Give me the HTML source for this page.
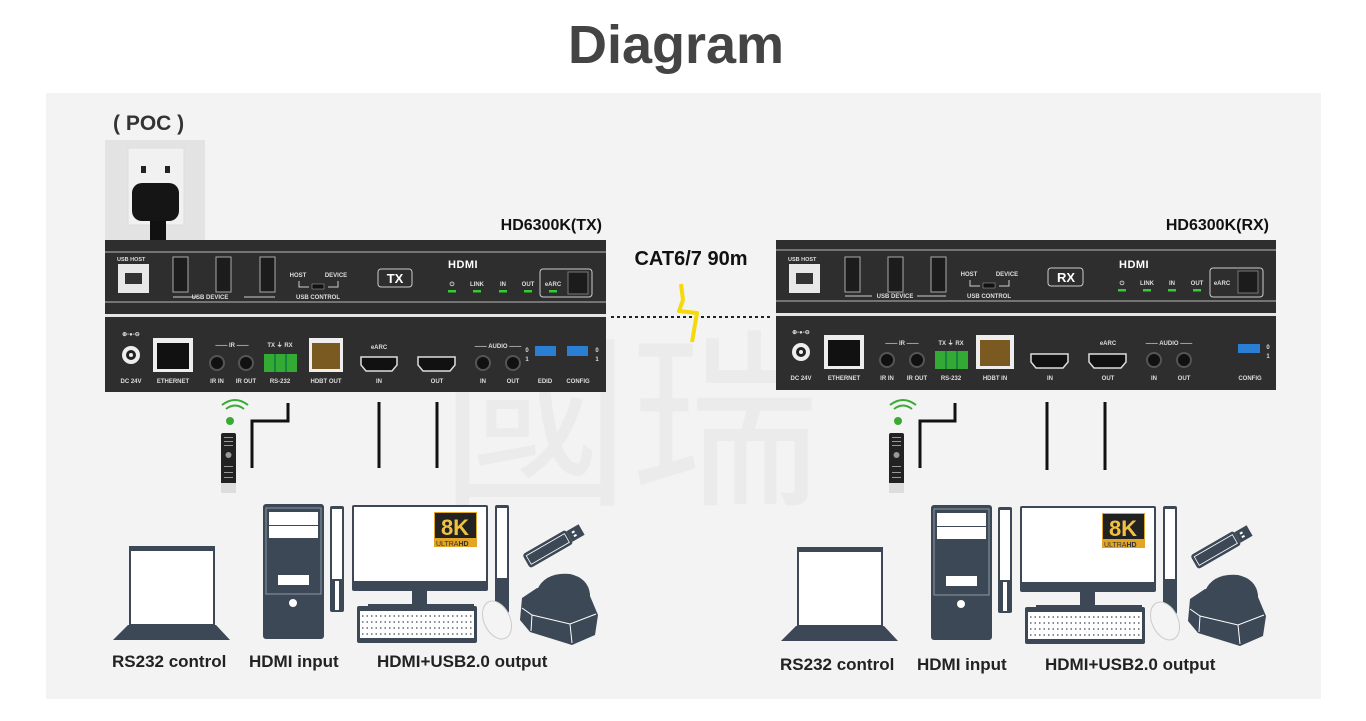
<!DOCTYPE html>
<html><head><meta charset="utf-8"><style>
html,body{margin:0;padding:0;background:#fff;}
svg{display:block;font-family:"Liberation Sans",Arial,sans-serif;}
.l{font-size:6px;fill:#ddd;font-weight:bold;text-anchor:middle}
.b{font-weight:bold}
</style></head><body>
<svg width="1366" height="721" viewBox="0 0 1366 721" xmlns="http://www.w3.org/2000/svg">
<defs>
<g id="dev">
 <rect x="129" y="546" width="86" height="80" fill="#3c4856"/>
 <rect x="131" y="551" width="82" height="73" fill="#fff"/>
 <polygon points="128,625 216,625 230,640 113,640" fill="#3c4856"/>
 <rect x="263" y="504" width="61" height="135" rx="3" fill="#3c4856"/>
 <rect x="266" y="508" width="55" height="86" fill="none" stroke="#8c97a2" stroke-width="1"/>
 <rect x="269" y="512" width="49" height="13" fill="#fff"/>
 <rect x="269" y="526" width="49" height="12" fill="#fff"/>
 <rect x="278" y="575" width="31" height="10" fill="#fff"/>
 <circle cx="293" cy="603" r="4" fill="#fff"/>
 <rect x="330" y="506" width="14" height="106" rx="2" fill="#3c4856"/>
 <rect x="332" y="509" width="10" height="70" fill="#fff"/>
 <rect x="335" y="581" width="4" height="29" fill="#fff"/>
 <rect x="352" y="505" width="136" height="86" rx="2" fill="#3c4856"/>
 <rect x="354" y="507" width="132" height="74" fill="#fff"/>
 <rect x="412" y="590" width="15" height="15" fill="#3c4856"/>
 <rect x="368" y="604" width="106" height="7" fill="#3c4856"/>
 <rect x="434" y="512" width="43" height="35" fill="#e2a526"/>
 <rect x="435" y="513" width="41" height="25" fill="#222"/>
 <text x="455" y="535" font-size="22" font-weight="bold" fill="#f0c040" text-anchor="middle">8K</text>
 <text x="436" y="546" font-size="7" fill="#333">ULTRA<tspan font-weight="bold">HD</tspan></text>
 <rect x="357" y="606" width="120" height="37" rx="2" fill="#3c4856"/>
 <rect x="360" y="611" width="114" height="27" fill="#fff"/>
 <g stroke="#3c4856" stroke-width="1.2">
  <line x1="362" y1="616" x2="472" y2="616" stroke-dasharray="1.5 3"/>
  <line x1="362" y1="622" x2="472" y2="622" stroke-dasharray="1.5 3"/>
  <line x1="362" y1="628" x2="472" y2="628" stroke-dasharray="1.5 3"/>
  <line x1="362" y1="634" x2="472" y2="634" stroke-dasharray="1.5 3"/>
 </g>
 <rect x="495" y="505" width="14" height="108" rx="2" fill="#3c4856"/>
 <rect x="497" y="508" width="10" height="70" fill="#fff"/>
 <ellipse cx="497" cy="620" rx="13" ry="20" fill="#f4f4f4" stroke="#ccc" transform="rotate(-25 497 620)"/>
 <g transform="rotate(-30 553 546)">
  <rect x="522" y="538" width="50" height="16" rx="3" fill="#3c4856"/>
  <rect x="525" y="541" width="44" height="10" fill="none" stroke="#fff" stroke-width="0.8"/>
  <rect x="572" y="540" width="14" height="12" fill="#3c4856"/>
  <rect x="576" y="543" width="3" height="2" fill="#fff"/><rect x="576" y="547" width="3" height="2" fill="#fff"/>
 </g>
 <path d="M537,590 Q545,572 570,574 Q588,578 590,594 L590,600 L537,596 Z" fill="#3c4856"/>
 <path d="M522,598 L537,588 L590,596 L598,615 L595,635 L572,645 L530,632 L520,620 Z" fill="#3c4856"/>
 <path d="M522,608 L532,615 L570,624 L596,614" fill="none" stroke="#fff" stroke-width="1"/>
 <path d="M532,615 L531,631 M570,624 L572,643" stroke="#fff" stroke-width="1"/>
</g>
<g id="remote">
 <path d="M226,409 q9,-7 18,0" fill="none" stroke="#3aaa35" stroke-width="2"/>
 <path d="M222,405 q13,-10 26,0" fill="none" stroke="#3aaa35" stroke-width="2"/>
 <circle cx="230" cy="421" r="4" fill="#3aaa35"/>
 <rect x="221" y="433" width="15" height="52" rx="2" fill="#222"/>
 <rect x="221" y="483" width="15" height="10" fill="#ddd"/>
 <g fill="#999"><rect x="224" y="437" width="9" height="1"/><rect x="224" y="441" width="9" height="1"/><rect x="224" y="445" width="9" height="1"/><circle cx="228.5" cy="455" r="3"/><rect x="224" y="466" width="9" height="1"/><rect x="224" y="472" width="9" height="1"/><rect x="224" y="477" width="9" height="1"/></g>
</g>
</defs>

<rect x="0" y="0" width="1366" height="721" fill="#fff"/>
<rect x="46" y="93" width="1275" height="606" fill="#f3f3f3"/>
<text x="440" y="490" font-size="190" fill="#ebebeb" font-family="'Noto Sans CJK TC',sans-serif">國瑞</text>

<text x="676" y="63" font-size="54" font-weight="bold" fill="#444" text-anchor="middle">Diagram</text>
<text x="113" y="130" font-size="21" font-weight="bold" fill="#333">( POC )</text>

<rect x="105" y="140" width="100" height="100" fill="#e3e3e3"/>
<rect x="128" y="148" width="56" height="77" fill="#f1f1f1" stroke="#ddd"/>
<path d="M141,166 h5 v7 h-5 z" fill="#222"/><path d="M165,166 h5 v7 h-5 z" fill="#222"/>
<rect x="150" y="215" width="16" height="25" fill="#111"/>
<rect x="132" y="183" width="47" height="38" rx="10" fill="#151515"/>

<text x="602" y="230" font-size="16" class="b" fill="#111" text-anchor="end">HD6300K(TX)</text>
<rect x="105" y="240" width="501" height="152" fill="#2e2e2e"/>
<line x1="105" y1="252" x2="606" y2="252" stroke="#bbb" stroke-width="1"/>
<line x1="105" y1="302" x2="606" y2="302" stroke="#bbb" stroke-width="1"/>
<rect x="105" y="314" width="501" height="3" fill="#e6e6e6"/>
<text x="117" y="261" font-size="5.5" fill="#ddd" class="b">USB HOST</text>
<rect x="118" y="264" width="31" height="29" fill="#e8e8e8"/><rect x="125" y="273" width="17" height="11" fill="#333"/>
<g fill="#1c1c1c" stroke="#aaa"><rect x="173" y="257" width="15" height="35"/><rect x="216" y="257" width="15" height="35"/><rect x="260" y="257" width="15" height="35"/></g>
<text x="210" y="299" font-size="6" class="l">USB DEVICE</text>
<line x1="173" y1="297" x2="197" y2="297" stroke="#ccc"/><line x1="244" y1="297" x2="275" y2="297" stroke="#ccc"/>
<text x="298" y="277" class="l">HOST</text><text x="336" y="277" class="l">DEVICE</text>
<text x="318" y="299" class="l">USB CONTROL</text>
<path d="M299,281 v6 h10 M328,287 h10 v-6" stroke="#ccc" fill="none"/><rect x="312" y="284" width="12" height="5" fill="#111" stroke="#aaa" stroke-width="0.5"/>
<rect x="378" y="269" width="34" height="18" rx="3" fill="none" stroke="#ccc"/>
<text x="395" y="283" font-size="13" class="b" fill="#fff" text-anchor="middle">TX</text>
<text x="448" y="268" font-size="11" class="b" fill="#fff" letter-spacing="0.5">HDMI</text>
<g class="l"><text x="452" y="286">⏻</text><text x="477" y="286">LINK</text><text x="503" y="286">IN</text><text x="528" y="286">OUT</text><text x="553" y="286">eARC</text></g>
<g fill="#3c3"><rect x="448" y="290" width="8" height="2.5"/><rect x="473" y="290" width="8" height="2.5"/><rect x="499" y="290" width="8" height="2.5"/><rect x="524" y="290" width="8" height="2.5"/><rect x="549" y="290" width="8" height="2.5"/></g>
<rect x="540" y="269" width="52" height="28" rx="3" fill="none" stroke="#ccc"/><rect x="568" y="272" width="20" height="22" fill="#1c1c1c" stroke="#777"/>
<text x="131" y="336" class="l">⊕-●-⊖</text>
<circle cx="131" cy="355" r="9" fill="#eee"/><circle cx="131" cy="355" r="5" fill="#222"/><circle cx="131" cy="355" r="2" fill="#eee"/>
<rect x="153" y="338" width="40" height="34" fill="#eee"/><rect x="157" y="343" width="32" height="26" fill="#111"/>
<text x="131" y="383" class="l">DC 24V</text><text x="173" y="383" class="l">ETHERNET</text>
<text x="232" y="347" class="l">—— IR ——</text>
<circle cx="217" cy="363" r="7" fill="#111" stroke="#555" stroke-width="2"/><circle cx="246" cy="363" r="7" fill="#111" stroke="#555" stroke-width="2"/>
<text x="217" y="383" class="l">IR IN</text><text x="246" y="383" class="l">IR OUT</text>
<text x="280" y="347" class="l">TX ⏚ RX</text>
<rect x="264" y="354" width="33" height="18" fill="#3a3"/><g stroke="#174" stroke-width="1.5"><line x1="275" y1="354" x2="275" y2="372"/><line x1="286" y1="354" x2="286" y2="372"/></g>
<text x="280" y="383" class="l">RS-232</text>
<rect x="309" y="338" width="34" height="34" fill="#eee"/><rect x="312" y="343" width="28" height="26" fill="#7a5a20"/>
<text x="326" y="383" class="l">HDBT OUT</text>
<text x="379" y="349" class="l">eARC</text>
<path d="M361,357 h36 v8 l-5,6 h-26 l-5,-6 z" fill="#111" stroke="#ddd" stroke-width="1.5"/>
<path d="M418,357 h37 v8 l-5,6 h-27 l-5,-6 z" fill="#111" stroke="#ddd" stroke-width="1.5"/>
<text x="379" y="383" class="l">IN</text><text x="437" y="383" class="l">OUT</text>
<text x="498" y="348" class="l">—— AUDIO ——</text>
<circle cx="483" cy="363" r="7" fill="#111" stroke="#555" stroke-width="2"/><circle cx="513" cy="363" r="7" fill="#111" stroke="#555" stroke-width="2"/>
<text x="483" y="383" class="l">IN</text><text x="513" y="383" class="l">OUT</text>
<text x="527" y="352" class="l">0</text><text x="527" y="361" class="l">1</text>
<rect x="535" y="346" width="21" height="10" fill="#2a7ed4"/><rect x="567" y="346" width="21" height="10" fill="#2a7ed4"/>
<text x="597" y="352" class="l">0</text><text x="597" y="361" class="l">1</text>
<text x="545" y="383" class="l">EDID</text><text x="578" y="383" class="l">CONFIG</text>

<text x="691" y="265" font-size="20" class="b" fill="#111" text-anchor="middle">CAT6/7 90m</text>
<line x1="611" y1="317" x2="772" y2="317" stroke="#222" stroke-width="2" stroke-dasharray="3 3"/>
<polyline points="681,284 683,300 679,311 697,313 692,342" fill="none" stroke="#f5d90a" stroke-width="4" stroke-linejoin="round"/>

<text x="1269" y="230" font-size="16" class="b" fill="#111" text-anchor="end">HD6300K(RX)</text>
<rect x="776" y="240" width="500" height="150" fill="#2e2e2e"/>
<line x1="776" y1="250" x2="1276" y2="250" stroke="#bbb"/>
<line x1="776" y1="301" x2="1276" y2="301" stroke="#bbb"/>
<rect x="776" y="313" width="500" height="3" fill="#e6e6e6"/>
<text x="788" y="261" font-size="5.5" fill="#ddd" class="b">USB HOST</text>
<rect x="789" y="264" width="31" height="29" fill="#e8e8e8"/><rect x="796" y="273" width="17" height="11" fill="#333"/>
<g fill="#1c1c1c" stroke="#aaa"><rect x="845" y="257" width="15" height="35"/><rect x="888" y="257" width="15" height="35"/><rect x="931" y="257" width="15" height="35"/></g>
<text x="895" y="298" class="l">USB DEVICE</text>
<line x1="845" y1="296" x2="872" y2="296" stroke="#ccc"/><line x1="917" y1="296" x2="946" y2="296" stroke="#ccc"/>
<text x="969" y="276" class="l">HOST</text><text x="1007" y="276" class="l">DEVICE</text>
<text x="989" y="298" class="l">USB CONTROL</text>
<path d="M970,280 v6 h10 M999,286 h10 v-6" stroke="#ccc" fill="none"/><rect x="983" y="283" width="12" height="5" fill="#111" stroke="#aaa" stroke-width="0.5"/>
<rect x="1048" y="268" width="35" height="18" rx="3" fill="none" stroke="#ccc"/>
<text x="1066" y="282" font-size="13" class="b" fill="#fff" text-anchor="middle">RX</text>
<text x="1119" y="268" font-size="11" class="b" fill="#fff" letter-spacing="0.5">HDMI</text>
<g class="l"><text x="1122" y="285">⏻</text><text x="1147" y="285">LINK</text><text x="1172" y="285">IN</text><text x="1197" y="285">OUT</text><text x="1222" y="285">eARC</text></g>
<g fill="#3c3"><rect x="1118" y="289" width="8" height="2.5"/><rect x="1143" y="289" width="8" height="2.5"/><rect x="1168" y="289" width="8" height="2.5"/><rect x="1193" y="289" width="8" height="2.5"/></g>
<rect x="1210" y="268" width="53" height="29" rx="3" fill="none" stroke="#ccc"/><rect x="1238" y="271" width="20" height="22" fill="#1c1c1c" stroke="#777"/>
<text x="801" y="334" class="l">⊕-●-⊖</text>
<circle cx="801" cy="352" r="9" fill="#eee"/><circle cx="801" cy="352" r="5" fill="#222"/><circle cx="801" cy="352" r="2" fill="#eee"/>
<rect x="824" y="335" width="40" height="34" fill="#eee"/><rect x="828" y="340" width="32" height="26" fill="#111"/>
<text x="801" y="380" class="l">DC 24V</text><text x="844" y="380" class="l">ETHERNET</text>
<text x="902" y="345" class="l">—— IR ——</text>
<circle cx="887" cy="360" r="7" fill="#111" stroke="#555" stroke-width="2"/><circle cx="917" cy="360" r="7" fill="#111" stroke="#555" stroke-width="2"/>
<text x="887" y="380" class="l">IR IN</text><text x="917" y="380" class="l">IR OUT</text>
<text x="951" y="345" class="l">TX ⏚ RX</text>
<rect x="935" y="351" width="33" height="18" fill="#3a3"/><g stroke="#174" stroke-width="1.5"><line x1="946" y1="351" x2="946" y2="369"/><line x1="957" y1="351" x2="957" y2="369"/></g>
<text x="951" y="380" class="l">RS-232</text>
<rect x="976" y="335" width="38" height="34" fill="#eee"/><rect x="980" y="340" width="30" height="26" fill="#7a5a20"/>
<text x="995" y="380" class="l">HDBT IN</text>
<path d="M1031,354 h37 v8 l-5,6 h-27 l-5,-6 z" fill="#111" stroke="#ddd" stroke-width="1.5"/>
<text x="1108" y="345" class="l">eARC</text>
<path d="M1089,354 h37 v8 l-5,6 h-27 l-5,-6 z" fill="#111" stroke="#ddd" stroke-width="1.5"/>
<text x="1050" y="380" class="l">IN</text><text x="1108" y="380" class="l">OUT</text>
<text x="1169" y="345" class="l">—— AUDIO ——</text>
<circle cx="1154" cy="360" r="7" fill="#111" stroke="#555" stroke-width="2"/><circle cx="1184" cy="360" r="7" fill="#111" stroke="#555" stroke-width="2"/>
<text x="1154" y="380" class="l">IN</text><text x="1184" y="380" class="l">OUT</text>
<rect x="1238" y="344" width="22" height="9" fill="#2a7ed4"/>
<text x="1268" y="349" class="l">0</text><text x="1268" y="358" class="l">1</text>
<text x="1250" y="380" class="l">CONFIG</text>

<g stroke="#111" stroke-width="3" fill="none">
 <polyline points="288,403 288,421 252,421 252,468"/>
 <line x1="379" y1="402" x2="379" y2="468"/><line x1="437" y1="402" x2="437" y2="468"/>
 <polyline points="955,403 955,421 920,421 920,468"/>
 <line x1="1047" y1="402" x2="1047" y2="470"/><line x1="1105" y1="402" x2="1105" y2="470"/>
</g>
<use href="#remote"/>
<use href="#remote" transform="translate(668 0)"/>
<use href="#dev"/>
<use href="#dev" transform="translate(668 1)"/>

<g font-size="17" class="b" fill="#222">
 <text x="112" y="667">RS232 control</text><text x="249" y="667">HDMI input</text><text x="377" y="667">HDMI+USB2.0 output</text>
 <text x="780" y="670">RS232 control</text><text x="917" y="670">HDMI input</text><text x="1045" y="670">HDMI+USB2.0 output</text>
</g>
</svg>
</body></html>
